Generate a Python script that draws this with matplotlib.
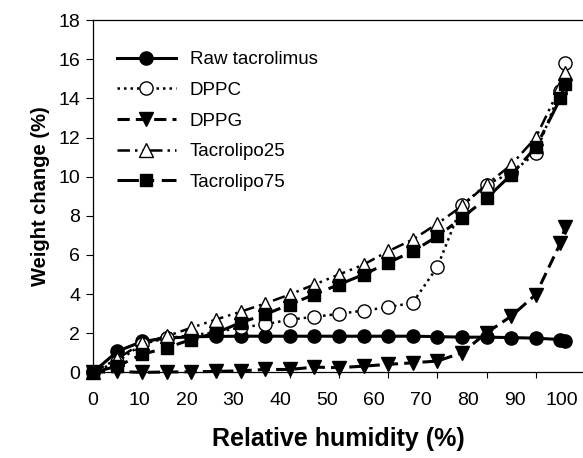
import matplotlib
matplotlib.use('Agg')
import matplotlib.pyplot as plt

plt.rcParams['font.family'] = ['Liberation Sans', 'DejaVu Sans']

# relative humidity steps (%)
rh = [0, 5, 10, 15, 20, 25, 30, 35, 40, 45, 50, 55, 60, 65, 70, 75, 80, 85, 90, 95, 96]

# weight change (%)
raw = [0, 1.08, 1.58, 1.75, 1.82, 1.84, 1.85, 1.85, 1.85, 1.85, 1.85, 1.85, 1.85, 1.85, 1.83, 1.8, 1.8, 1.78, 1.75, 1.68, 1.6]
dppc = [0, 0.55, 1.45, 1.75, 1.9, 2.05, 2.3, 2.45, 2.7, 2.84, 2.99, 3.16, 3.33, 3.56, 5.39, 8.55, 9.6, 10.2, 11.2, 14.4, 15.8]
dppg = [0, 0.05, 0.0, 0.02, 0.03, 0.05, 0.08, 0.15, 0.15, 0.27, 0.24, 0.32, 0.41, 0.49, 0.58, 1.0, 2.02, 2.87, 3.98, 6.6, 7.45]
lipo25 = [0, 0.7, 1.5, 1.85, 2.28, 2.7, 3.1, 3.52, 3.98, 4.49, 5.0, 5.51, 6.19, 6.79, 7.6, 8.5, 9.6, 10.6, 12.0, 14.6, 15.3]
lipo75 = [0, 0.32, 0.92, 1.26, 1.68, 2.02, 2.54, 2.96, 3.47, 3.98, 4.49, 5.0, 5.6, 6.19, 6.95, 7.9, 8.9, 10.1, 11.5, 14.0, 14.75]

# the printed x labels sit a bit left of their ticks in the original
xlabels = [0, 10, 20, 30, 40, 50, 60, 70, 80, 90, 100]
label_shift = 0.953

fig = plt.figure(figsize=(5.83, 4.58), dpi=100)
ax = fig.add_axes([0.1593, 0.1869, 0.8407, 0.769])

ms = 9.5
ax.plot(rh, raw, '-', color='black', lw=2.2, marker='o', ms=ms, mfc='black', mec='black',
        label='Raw tacrolimus', zorder=3, clip_on=False)
ax.plot(rh, dppc, color='black', lw=1.8, ls=(0, (1, 1.6)), marker='o', ms=ms, mfc='white', mec='black',
        mew=1.0, label='DPPC', zorder=4, clip_on=False)
ax.plot(rh, dppg, color='black', lw=2.2, ls=(0, (4, 2)), marker='v', ms=ms + 0.5, mfc='black', mec='black',
        label='DPPG', zorder=3, clip_on=False)
ax.plot(rh, lipo25, color='black', lw=1.8, ls=(0, (5, 2, 1, 2, 1, 2)), marker='^', ms=ms, mfc='white', mec='black',
        mew=1.0, label='Tacrolipo25', zorder=5, clip_on=False)
ax.plot(rh, lipo75, color='black', lw=2.2, ls=(0, (7, 2.5, 2.5, 2.5)), marker='s', ms=ms - 0.5, mfc='black', mec='black',
        label='Tacrolipo75', zorder=6, clip_on=False)

ax.set_xlim(0, 99.6)
ax.set_ylim(0, 18)
ax.set_yticks(range(0, 19, 2))
ax.set_xticks(range(0, 100, 10))
ax.xaxis.remove_overlapping_locs = False
ax.tick_params(axis='x', which='major', labelbottom=False, length=4, width=0.8, direction='out')
ax.set_xticks([v * label_shift for v in xlabels], [str(v) for v in xlabels], minor=True)
ax.tick_params(axis='x', which='minor', length=0, pad=14, labelsize=14)
ax.tick_params(axis='y', length=5, width=0.8, direction='out', pad=4, labelsize=14)

ax.spines['right'].set_visible(False)
for s in ['left', 'bottom', 'top']:
    ax.spines[s].set_linewidth(0.9)

ax.set_xlabel('Relative humidity (%)', fontsize=18, fontweight='bold', labelpad=13)
ax.set_ylabel('Weight change (%)', fontsize=14.5, fontweight='bold', labelpad=6)

ax.legend(loc='upper left', bbox_to_anchor=(0.05, 0.912), frameon=False, fontsize=13.5,
          handlelength=3.1, handletextpad=0.75, labelspacing=0.72, borderpad=0, borderaxespad=0)

fig.savefig('out.png', dpi=100)
